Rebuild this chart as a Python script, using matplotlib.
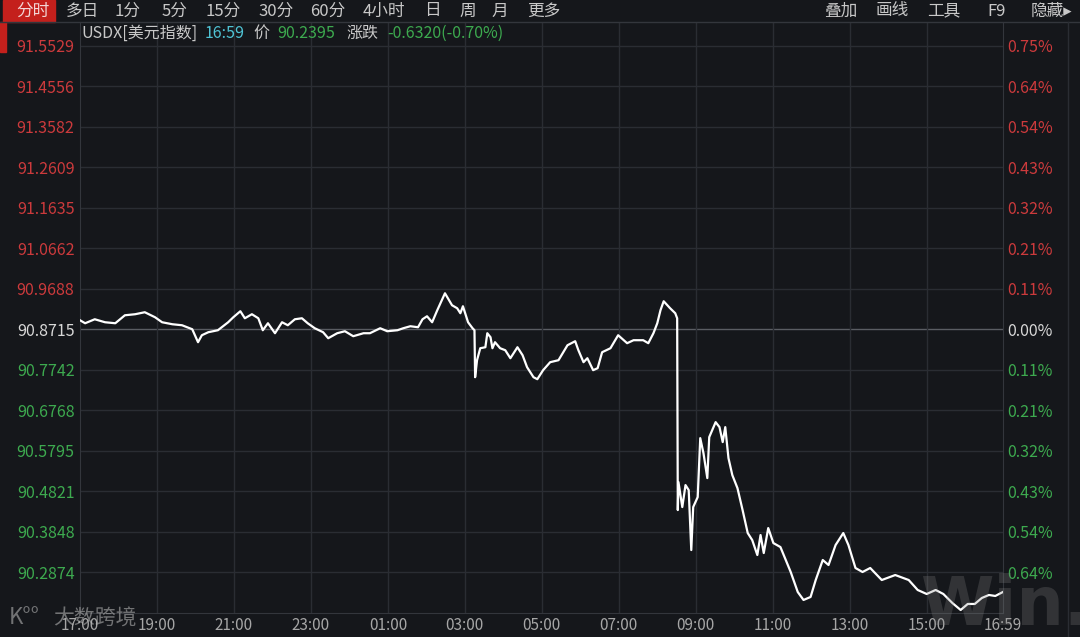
import numpy as np
import matplotlib
matplotlib.use('Agg')
import matplotlib.pyplot as plt
from matplotlib.patches import Rectangle

plt.rcParams['font.family'] = ['Noto Sans CJK SC', 'DejaVu Sans']

# minutes since 17:00 and USDX price
minutes = [0, 8, 23, 39, 55, 70, 86, 101, 117, 128, 144, 159, 175, 184, 190, 200, 215, 231,
           239, 250, 257, 268, 278, 285, 293, 304, 315, 324, 335, 346, 355, 366, 379, 387,
           401, 413, 426, 442, 452, 468, 479, 495, 504, 515, 527, 534, 541, 549, 557, 569,
           580, 588, 593, 597, 605, 612, 615, 616, 619, 624, 632, 635, 640, 643, 647, 655,
           663, 671, 682, 690, 697, 707, 713, 722, 733, 746, 760, 772, 777, 785, 791, 800,
           807, 814, 827, 839, 853, 863, 878, 886, 894, 900, 905, 910, 920, 928, 931, 932,
           933, 939, 944, 949, 953, 956, 963, 967, 972, 978, 981, 991, 997, 1002, 1006,
           1011, 1017, 1025, 1033, 1041, 1048, 1056, 1061, 1066, 1073, 1081, 1092, 1108,
           1119, 1128, 1139, 1147, 1158, 1167, 1178, 1190, 1198, 1209, 1220, 1232, 1250,
           1271, 1292, 1306, 1320, 1334, 1346, 1360, 1373, 1384, 1395, 1406, 1417, 1427, 1439]
price = [90.8931, 90.8859, 90.8955, 90.8883, 90.8859, 90.9051, 90.9076, 90.9124, 90.9003,
         90.8883, 90.8835, 90.8811, 90.8715, 90.8403, 90.8571, 90.8643, 90.8691, 90.8883,
         90.9003, 90.9148, 90.8979, 90.9076, 90.8979, 90.8691, 90.8859, 90.8619, 90.8883,
         90.8811, 90.8955, 90.8979, 90.8859, 90.8739, 90.8643, 90.8499, 90.8619, 90.8667,
         90.8547, 90.8619, 90.8619, 90.8739, 90.8667, 90.8691, 90.8739, 90.8787, 90.8763,
         90.8955, 90.9027, 90.8883, 90.9172, 90.9580, 90.9292, 90.9220, 90.9100, 90.9268,
         90.8883, 90.8739, 90.8691, 90.7561, 90.7970, 90.8258, 90.8282, 90.8619, 90.8523,
         90.8258, 90.8403, 90.8258, 90.8210, 90.8018, 90.8282, 90.8090, 90.7802, 90.7561,
         90.7513, 90.7730, 90.7922, 90.7970, 90.8330, 90.8427, 90.8210, 90.7922, 90.8018,
         90.7730, 90.7778, 90.8162, 90.8258, 90.8571, 90.8379, 90.8451, 90.8451, 90.8379,
         90.8619, 90.8859, 90.9172, 90.9388, 90.9220, 90.9100, 90.8979, 90.4365, 90.5038,
         90.4437, 90.4966, 90.4845, 90.3403, 90.4437, 90.4677, 90.6095, 90.5735, 90.5134,
         90.6119, 90.6480, 90.6360, 90.6000, 90.6360, 90.5614, 90.5206, 90.4893, 90.4365,
         90.3812, 90.3644, 90.3283, 90.3764, 90.3331, 90.3932, 90.3571, 90.3475, 90.2875,
         90.2394, 90.2202, 90.2274, 90.2682, 90.3163, 90.3043, 90.3524, 90.3812, 90.3524,
         90.2971, 90.2875, 90.2971, 90.2682, 90.2802, 90.2682, 90.2442, 90.2346, 90.2442,
         90.2346, 90.2130, 90.1961, 90.2106, 90.2106, 90.2250, 90.2322, 90.2298, 90.2395]

prev_close = 90.8715
y_ticks = [91.5529, 91.4556, 91.3582, 91.2609, 91.1635, 91.0662, 90.9688, 90.8715,
           90.7742, 90.6768, 90.5795, 90.4821, 90.3848, 90.2874]
x_ticks = [0, 120, 240, 360, 480, 600, 720, 840, 960, 1080, 1200, 1320, 1439]
x_labels = ['17:00', '19:00', '21:00', '23:00', '01:00', '03:00', '05:00', '07:00',
            '09:00', '11:00', '13:00', '15:00', '16:59']
toolbar_left = ['分时', '多日', '1分', '5分', '15分', '30分', '60分', '4小时', '日', '周', '月', '更多']
toolbar_right = ['叠加', '画线', '工具', 'F9', '隐藏▸']

BG = '#15171b'
GRID = '#2a2d33'
RED = '#cc3a3c'
GREEN = '#3daa4f'
W, H = 1080, 637

fig = plt.figure(figsize=(10.8, 6.37), dpi=100, facecolor=BG)

def fx(px):
    return px / W

def fy(py):
    return 1 - py / H

# main axes (pixel box 80..1003, 22..613)
ax = fig.add_axes([fx(80), fy(613), fx(1003) - fx(80), fy(22) - fy(613)], facecolor=BG)
ppx = 0.0024035
ax.set_ylim(90.2874 - 41 * ppx, 91.5529 + 24 * ppx)
ax.set_xlim(0, 1439)

for t in y_ticks:
    c = '#5a5d63' if t == prev_close else GRID
    ax.axhline(t, color=c, lw=1, zorder=1)
for t in x_ticks[1:-1]:
    ax.axvline(t, color=GRID, lw=1, zorder=1)

ax.plot(minutes, price, color='white', lw=1.6, zorder=3)

ax.spines['top'].set_visible(False)
for s in ['left', 'right', 'bottom']:
    ax.spines[s].set_color('#33363c')

ax.set_yticks(y_ticks)
ax.set_yticklabels(['%.4f' % t for t in y_ticks])
ax.tick_params(axis='y', length=0, pad=4, labelsize=11.5)
for lab, t in zip(ax.get_yticklabels(), y_ticks):
    lab.set_color(RED if t > prev_close else (GREEN if t < prev_close else '#d8d8d8'))

ax.set_xticks(x_ticks)
ax.set_xticklabels(x_labels)
ax.tick_params(axis='x', length=0, pad=3, labelsize=11, colors='#a6a6a6')

ax2 = ax.twinx()
ax2.set_ylim(ax.get_ylim())
ax2.set_yticks(y_ticks)
ax2.set_yticklabels(['%.2f%%' % abs((t - prev_close) / prev_close * 100) for t in y_ticks])
ax2.tick_params(axis='y', length=0, pad=3, labelsize=11.5)
for lab, t in zip(ax2.get_yticklabels(), y_ticks):
    lab.set_color(RED if t > prev_close else (GREEN if t < prev_close else '#d8d8d8'))
for s in ax2.spines.values():
    s.set_visible(False)

# toolbar
fig.add_artist(Rectangle((fx(3), fy(22)), fx(52), fy(0) - fy(22), transform=fig.transFigure,
                         color='#c4201c', zorder=0))
fig.add_artist(Rectangle((0, fy(52)), fx(6), fy(22) - fy(52), transform=fig.transFigure,
                         color='#c4201c', zorder=0))
fig.add_artist(plt.Line2D([0, 1], [fy(22), fy(22)], transform=fig.transFigure,
                          color='#33363c', lw=1))
fig.add_artist(plt.Line2D([fx(1068), fx(1068)], [fy(22), fy(637)], transform=fig.transFigure,
                          color='#2a2d33', lw=1))
left_x = [33, 82, 128, 174, 223, 276, 328, 384, 432, 468, 500, 544]
for lbl, xp in zip(toolbar_left, left_x):
    fig.text(fx(xp), fy(11), lbl, ha='center', va='center', fontsize=12,
             color='#f3d6d6' if lbl == '分时' else '#c8c8c8')
right_x = [841, 892, 944, 997, 1051]
for lbl, xp in zip(toolbar_right, right_x):
    fig.text(fx(xp), fy(11), lbl, ha='center', va='center', fontsize=12, color='#c8c8c8')

# header line
hdr = [('USDX[美元指数]', 81, '#c8c8c8'), ('16:59', 205, '#4fc3d4'), ('价', 253, '#c8c8c8'),
       ('90.2395', 277, GREEN), ('涨跌', 346, '#c8c8c8'), ('-0.6320(-0.70%)', 387, GREEN)]
for txt, xp, col in hdr:
    fig.text(fx(xp), fy(33), txt, ha='left', va='center', fontsize=11.5, color=col)

# watermarks
fig.text(fx(9), fy(617), 'K°°', ha='left', va='center', fontsize=16, color='#bfbfbf', alpha=0.55)
fig.text(fx(53), fy(619), '大数跨境', ha='left', va='center', fontsize=15, color='#bfbfbf', alpha=0.55)
fig.text(fx(920), fy(606), 'Win.d', ha='left', va='center', fontsize=48, fontweight='bold',
         color='#8a8a8a', alpha=0.25, family='DejaVu Sans')

fig.savefig('out.png', dpi=100, facecolor=BG)
